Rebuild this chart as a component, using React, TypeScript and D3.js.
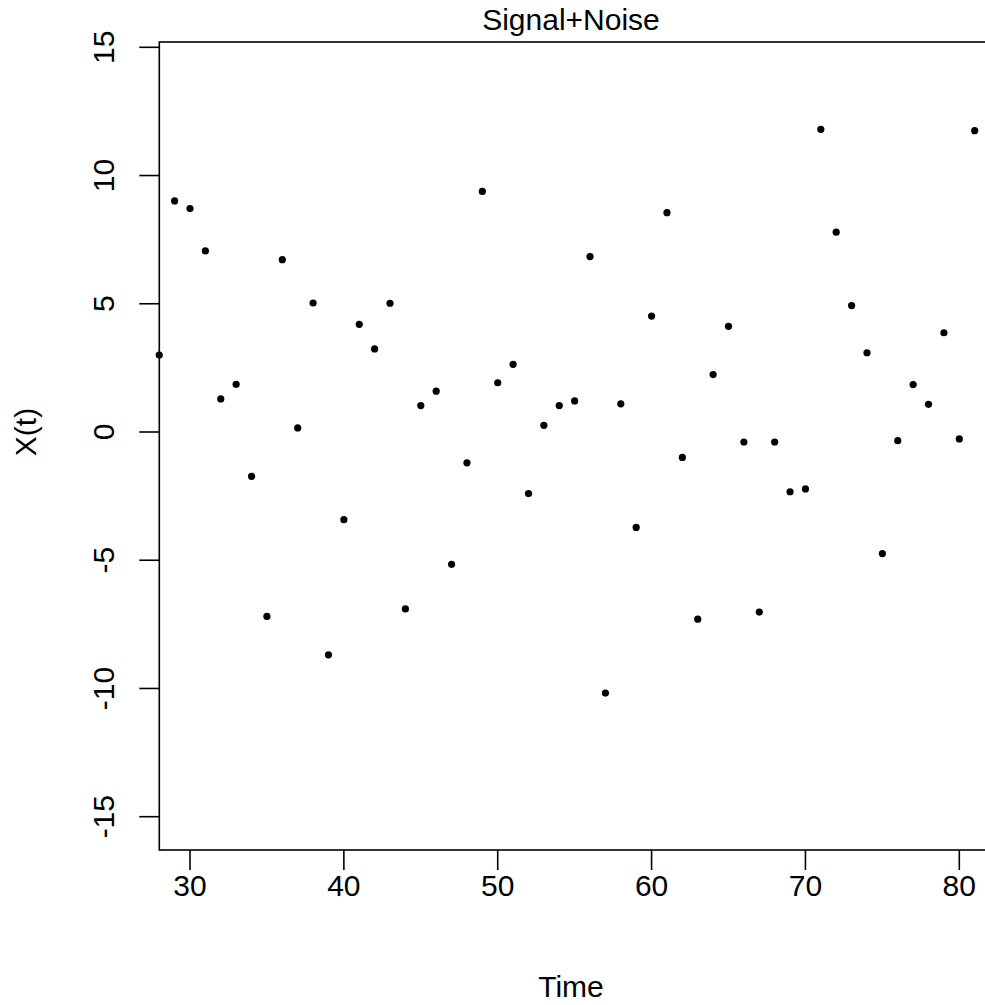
import React from "react";
import * as d3 from "d3";

const times: number[] = [28,29,30,31,32,33,34,35,36,37,38,39,40,41,42,43,44,45,46,47,48,49,50,51,52,53,54,55,56,57,58,59,60,61,62,63,64,65,66,67,68,69,70,71,72,73,74,75,76,77,78,79,80,81];
const values: number[] = [3.00,9.01,8.71,7.06,1.29,1.86,-1.73,-7.19,6.72,0.16,5.03,-8.69,-3.42,4.20,3.24,5.02,-6.90,1.03,1.59,-5.16,-1.20,9.38,1.92,2.64,-2.40,0.26,1.03,1.21,6.84,-10.18,1.10,-3.72,4.52,8.55,-0.99,-7.30,2.24,4.12,-0.39,-7.02,-0.39,-2.33,-2.22,11.80,7.79,4.93,3.09,-4.74,-0.34,1.85,1.08,3.87,-0.27,11.75];
const xTicks: number[] = [30, 40, 50, 60, 70, 80];
const yTicks: number[] = [-15, -10, -5, 0, 5, 10, 15];

const W = 985;
const H = 1005;
const left = 159.3;
const top = 42;
const bottom = 850;
const right = 1000;
const font = "'Liberation Sans', Arial, sans-serif";

export default function App() {
  const x = d3.scaleLinear().domain([30, 80]).range([190, 959.3]);
  const y = d3.scaleLinear().domain([-15, 15]).range([816.7, 47.3]);
  return (
    <svg width={W} height={H} style={{ position: "absolute", left: 0, top: 0, background: "#fff" }}>
      <rect x={0} y={0} width={W} height={H} fill="#fff" />
      <text x={571} y={30} fontFamily={font} fontSize={30} textAnchor="middle" fill="#000">Signal+Noise</text>
      <rect x={left} y={top} width={right - left} height={bottom - top} fill="none" stroke="#000" strokeWidth={1.6} />
      {xTicks.map((t) => (
        <g key={"x" + t}>
          <line x1={x(t)} x2={x(t)} y1={bottom} y2={bottom + 20} stroke="#000" strokeWidth={1.6} />
          <text x={x(t)} y={896} fontFamily={font} fontSize={30} textAnchor="middle" fill="#000">{t}</text>
        </g>
      ))}
      {yTicks.map((t) => (
        <g key={"y" + t}>
          <line x1={left - 20} x2={left} y1={y(t)} y2={y(t)} stroke="#000" strokeWidth={1.6} />
          <text transform={`translate(113.5,${y(t)}) rotate(-90)`} fontFamily={font} fontSize={30} textAnchor="middle" fill="#000">{t}</text>
        </g>
      ))}
      <text x={571} y={997} fontFamily={font} fontSize={30} textAnchor="middle" fill="#000">Time</text>
      <text transform={`translate(36,${y(0)}) rotate(-90)`} fontFamily={font} fontSize={30} textAnchor="middle" fill="#000">X(t)</text>
      {times.map((t, i) => (
        <circle key={"p" + t} cx={x(t)} cy={y(values[i])} r={3.6} fill="#000" />
      ))}
    </svg>
  );
}
